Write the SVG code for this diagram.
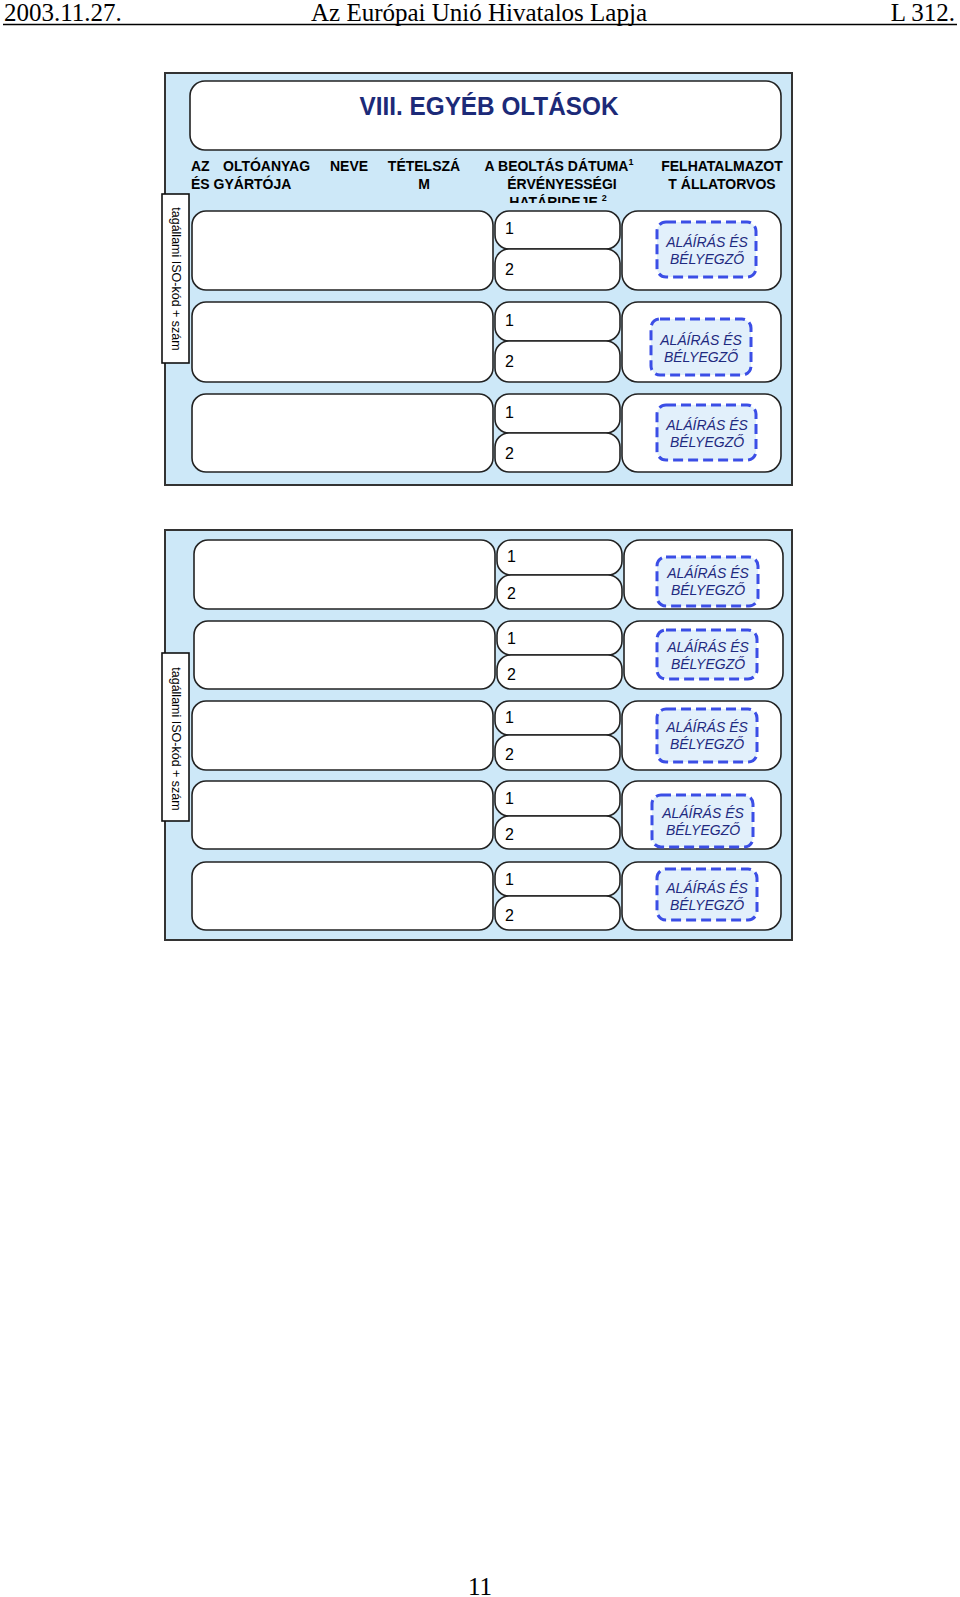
<svg xmlns="http://www.w3.org/2000/svg" width="960" height="1597" viewBox="0 0 960 1597">
<style>
.hdr{font-family:"Liberation Serif","Times New Roman",serif;font-size:25px;fill:#000}
.panel{fill:#cde8f8;stroke:#333;stroke-width:2}
.box{fill:#fff;stroke:#222;stroke-width:1.6}
.dash{fill:#e2f0fb;stroke:#3b4ee6;stroke-width:3;stroke-dasharray:10 5}
.sig{font-family:"Liberation Sans",Arial,sans-serif;font-size:14px;font-style:italic;fill:#1f2a80;text-anchor:middle}
.num{font-family:"Liberation Sans",Arial,sans-serif;font-size:16px;fill:#000}
.col{font-family:"Liberation Sans",Arial,sans-serif;font-size:14px;font-weight:bold;fill:#000}
.side{fill:#fff;stroke:#111;stroke-width:1.6}
.sidet{font-family:"Liberation Sans",Arial,sans-serif;font-size:12.5px;fill:#000;text-anchor:middle}
</style>
<defs>
<clipPath id="hclip"><rect x="165" y="150" width="627" height="53"/></clipPath>
</defs>
<rect width="960" height="1597" fill="#fff"/>
<g id="page-header">
<text class="hdr" x="4" y="21">2003.11.27.</text>
<text class="hdr" x="479" y="21" text-anchor="middle">Az Európai Unió Hivatalos Lapja</text>
<text class="hdr" x="955" y="21" text-anchor="end">L 312.</text>
<line x1="3" y1="24.5" x2="957" y2="24.5" stroke="#000" stroke-width="1.3"/>
</g>

<g id="panel1">
<rect class="panel" x="165" y="73" width="627" height="412"/>
<g id="title">
<rect class="box" x="190" y="81" width="591" height="69" rx="15"/>
<text x="489" y="115" font-family="Liberation Sans, Arial, sans-serif" font-size="25" font-weight="bold" fill="#1c2a78" text-anchor="middle" textLength="259" lengthAdjust="spacingAndGlyphs">VIII. EGYÉB OLTÁSOK</text>
</g>
<g id="col-headers" clip-path="url(#hclip)">
<text class="col" y="171"><tspan x="191">AZ</tspan><tspan x="223">OLTÓANYAG</tspan><tspan x="330">NEVE</tspan></text>
<text class="col" x="191" y="189">ÉS GYÁRTÓJA</text>
<text class="col" x="424" y="171" text-anchor="middle">TÉTELSZÁ</text>
<text class="col" x="424" y="189" text-anchor="middle">M</text>
<text class="col" x="559" y="171" text-anchor="middle">A BEOLTÁS DÁTUMA<tspan font-size="9" dy="-6">1</tspan></text>
<text class="col" x="562" y="189" text-anchor="middle">ÉRVÉNYESSÉGI</text>
<text class="col" x="558" y="207" text-anchor="middle">HATÁRIDEJE <tspan font-size="9" dy="-6">2</tspan></text>
<text class="col" x="722" y="171" text-anchor="middle">FELHATALMAZOT</text>
<text class="col" x="722" y="189" text-anchor="middle">T ÁLLATORVOS</text>
</g>
<g id="side1">
<rect class="side" x="162" y="194" width="27" height="169"/>
<text class="sidet" transform="translate(176,279) rotate(90)" dy="0.35em">tagállami ISO-kód + szám</text>
</g>
<g id="p1r1">
<rect class="box" x="192" y="211" width="301" height="79" rx="14"/>
<rect class="box" x="495" y="211" width="125" height="38" rx="14"/>
<rect class="box" x="495" y="249" width="125" height="41" rx="14"/>
<text class="num" x="505" y="234">1</text>
<text class="num" x="505" y="275">2</text>
<rect class="box" x="622" y="211" width="159" height="79" rx="16"/>
<rect class="dash" x="657" y="222" width="99" height="55" rx="9"/>
<text class="sig" x="707" y="247">ALÁÍRÁS ÉS</text>
<text class="sig" x="707" y="264">BÉLYEGZŐ</text>
</g>
<g id="p1r2">
<rect class="box" x="192" y="302" width="301" height="80" rx="14"/>
<rect class="box" x="495" y="302" width="125" height="39" rx="14"/>
<rect class="box" x="495" y="341" width="125" height="41" rx="14"/>
<text class="num" x="505" y="326">1</text>
<text class="num" x="505" y="367">2</text>
<rect class="box" x="622" y="302" width="159" height="80" rx="16"/>
<rect class="dash" x="651" y="319" width="100" height="56" rx="9"/>
<text class="sig" x="701" y="345">ALÁÍRÁS ÉS</text>
<text class="sig" x="701" y="362">BÉLYEGZŐ</text>
</g>
<g id="p1r3">
<rect class="box" x="192" y="394" width="301" height="78" rx="14"/>
<rect class="box" x="495" y="394" width="125" height="39" rx="14"/>
<rect class="box" x="495" y="433" width="125" height="39" rx="14"/>
<text class="num" x="505" y="418">1</text>
<text class="num" x="505" y="459">2</text>
<rect class="box" x="622" y="394" width="159" height="78" rx="16"/>
<rect class="dash" x="657" y="405" width="99" height="55" rx="9"/>
<text class="sig" x="707" y="430">ALÁÍRÁS ÉS</text>
<text class="sig" x="707" y="447">BÉLYEGZŐ</text>
</g>
</g>

<g id="panel2">
<rect class="panel" x="165" y="530" width="627" height="410"/>
<g id="side2">
<rect class="side" x="162" y="653" width="27" height="168"/>
<text class="sidet" transform="translate(176,739) rotate(90)" dy="0.35em">tagállami ISO-kód + szám</text>
</g>
<g id="p2r1">
<rect class="box" x="194" y="540" width="301" height="69" rx="14"/>
<rect class="box" x="497" y="540" width="125" height="35" rx="14"/>
<rect class="box" x="497" y="575" width="125" height="34" rx="14"/>
<text class="num" x="507" y="562">1</text>
<text class="num" x="507" y="599">2</text>
<rect class="box" x="624" y="540" width="159" height="69" rx="16"/>
<rect class="dash" x="657" y="557" width="101" height="49" rx="9"/>
<text class="sig" x="708" y="578">ALÁÍRÁS ÉS</text>
<text class="sig" x="708" y="595">BÉLYEGZŐ</text>
</g>
<g id="p2r2">
<rect class="box" x="194" y="621" width="301" height="68" rx="14"/>
<rect class="box" x="497" y="621" width="125" height="34" rx="14"/>
<rect class="box" x="497" y="655" width="125" height="34" rx="14"/>
<text class="num" x="507" y="644">1</text>
<text class="num" x="507" y="680">2</text>
<rect class="box" x="624" y="621" width="159" height="68" rx="16"/>
<rect class="dash" x="657" y="630" width="100" height="49" rx="9"/>
<text class="sig" x="708" y="652">ALÁÍRÁS ÉS</text>
<text class="sig" x="708" y="669">BÉLYEGZŐ</text>
</g>
<g id="p2r3">
<rect class="box" x="192" y="701" width="301" height="69" rx="14"/>
<rect class="box" x="495" y="701" width="125" height="34" rx="14"/>
<rect class="box" x="495" y="735" width="125" height="35" rx="14"/>
<text class="num" x="505" y="723">1</text>
<text class="num" x="505" y="760">2</text>
<rect class="box" x="622" y="701" width="159" height="69" rx="16"/>
<rect class="dash" x="657" y="709" width="100" height="53" rx="9"/>
<text class="sig" x="707" y="732">ALÁÍRÁS ÉS</text>
<text class="sig" x="707" y="749">BÉLYEGZŐ</text>
</g>
<g id="p2r4">
<rect class="box" x="192" y="781" width="301" height="68" rx="14"/>
<rect class="box" x="495" y="781" width="125" height="35" rx="14"/>
<rect class="box" x="495" y="816" width="125" height="33" rx="14"/>
<text class="num" x="505" y="804">1</text>
<text class="num" x="505" y="840">2</text>
<rect class="box" x="622" y="781" width="159" height="68" rx="16"/>
<rect class="dash" x="652" y="795" width="101" height="52" rx="9"/>
<text class="sig" x="703" y="818">ALÁÍRÁS ÉS</text>
<text class="sig" x="703" y="835">BÉLYEGZŐ</text>
</g>
<g id="p2r5">
<rect class="box" x="192" y="862" width="301" height="68" rx="14"/>
<rect class="box" x="495" y="862" width="125" height="34" rx="14"/>
<rect class="box" x="495" y="896" width="125" height="34" rx="14"/>
<text class="num" x="505" y="885">1</text>
<text class="num" x="505" y="921">2</text>
<rect class="box" x="622" y="862" width="159" height="68" rx="16"/>
<rect class="dash" x="657" y="869" width="100" height="51" rx="9"/>
<text class="sig" x="707" y="893">ALÁÍRÁS ÉS</text>
<text class="sig" x="707" y="910">BÉLYEGZŐ</text>
</g>
</g>

<g id="connectors"></g>

<g id="page-number">
<text class="hdr" x="480" y="1595" text-anchor="middle">11</text>
</g>
</svg>
